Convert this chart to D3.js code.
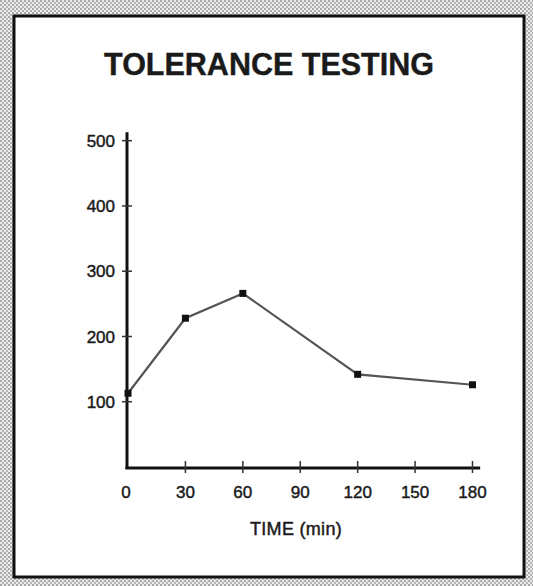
<!DOCTYPE html>
<html>
<head>
<meta charset="utf-8">
<script src="https://cdn.jsdelivr.net/npm/d3@7"></script>
<style>
  html, body { margin: 0; padding: 0; background: #fff; }
  svg { display: block; }
  text { font-family: "Liberation Sans", Arial, Helvetica, sans-serif; fill: #1a1a1a; }
  .lbl { stroke: #1a1a1a; stroke-width: 0.45px; }
</style>
</head>
<body>
<svg id="chart" width="533" height="586"></svg>
<script>
// ---- data ----
const title = "TOLERANCE TESTING";
const xLabel = "TIME (min)";
const times = [0, 30, 60, 120, 180];
const values = [113, 228, 266, 142, 126];
const xTicks = [0, 30, 60, 90, 120, 150, 180];
const yTicks = [100, 200, 300, 400, 500];

const svg = d3.select("#chart");
const W = 533, H = 586;

// dithered outer background
const defs = svg.append("defs");
const pat = defs.append("pattern").attr("id", "dither")
  .attr("width", 4).attr("height", 4).attr("patternUnits", "userSpaceOnUse");
pat.append("rect").attr("width", 4).attr("height", 4).attr("fill", "#ececec");
pat.append("rect").attr("x", 0).attr("y", 0).attr("width", 2).attr("height", 2).attr("fill", "#a8a8a8");
pat.append("rect").attr("x", 2).attr("y", 2).attr("width", 2).attr("height", 2).attr("fill", "#b4b4b4");

svg.append("rect").attr("width", W).attr("height", H).attr("fill", "url(#dither)");
svg.append("rect").attr("x", 14).attr("y", 16).attr("width", 510).attr("height", 561)
  .attr("fill", "#fff").attr("stroke", "#111").attr("stroke-width", 3);

// title
svg.append("text").attr("x", 269).attr("y", 75)
  .attr("text-anchor", "middle").attr("font-size", 30.5).attr("font-weight", "bold")
  .attr("stroke", "#1a1a1a").attr("stroke-width", 0.4)
  .text(title);

// scales
const x = d3.scaleLinear().domain([0, 180]).range([128, 472.5]);
const y = d3.scaleLinear().domain([0, 500]).range([467, 140.7]);

// axis lines
const axisG = svg.append("g");
axisG.append("line")
  .attr("x1", x(0) - 1).attr("x2", x(0) - 1)
  .attr("y1", y(513)).attr("y2", y(0) + 2)
  .attr("stroke", "#111").attr("stroke-width", 3);
axisG.append("line")
  .attr("x1", x(0) - 2.5).attr("x2", x(184))
  .attr("y1", y(0) + 1).attr("y2", y(0) + 1)
  .attr("stroke", "#111").attr("stroke-width", 3);

// y ticks and labels
const yt = axisG.selectAll(".yt").data(yTicks).enter().append("g").attr("class", "yt");
yt.append("line")
  .attr("x1", x(0) - 6).attr("x2", x(0) + 4)
  .attr("y1", d => y(d)).attr("y2", d => y(d))
  .attr("stroke", "#333").attr("stroke-width", 1.5);
yt.append("text").attr("class", "lbl")
  .attr("x", x(0) - 13).attr("y", d => y(d)).attr("dy", "0.36em")
  .attr("text-anchor", "end").attr("font-size", 17)
  .text(d => d);

// x ticks and labels
const xt = axisG.selectAll(".xt").data(xTicks).enter().append("g").attr("class", "xt");
xt.filter(d => d > 0).append("line")
  .attr("x1", d => x(d)).attr("x2", d => x(d))
  .attr("y1", y(0) - 6).attr("y2", y(0) + 6)
  .attr("stroke", "#333").attr("stroke-width", 1.5);
xt.append("text").attr("class", "lbl")
  .attr("x", d => d === 0 ? x(d) - 2 : x(d)).attr("y", 497.5)
  .attr("text-anchor", "middle").attr("font-size", 17)
  .text(d => d);

// x label
svg.append("text").attr("class", "lbl").attr("x", 296).attr("y", 535)
  .attr("text-anchor", "middle").attr("font-size", 18).attr("letter-spacing", 0.3)
  .text(xLabel);

// data line
const pts = times.map((t, i) => [t, values[i]]);
svg.append("path")
  .attr("d", d3.line().x(d => x(d[0])).y(d => y(d[1]))(pts))
  .attr("fill", "none").attr("stroke", "#555").attr("stroke-width", 2.2);

svg.selectAll(".pt").data(pts).enter().append("rect")
  .attr("x", d => x(d[0]) - 3.5).attr("y", d => y(d[1]) - 3.5)
  .attr("width", 7).attr("height", 7).attr("fill", "#111");
</script>
</body>
</html>
